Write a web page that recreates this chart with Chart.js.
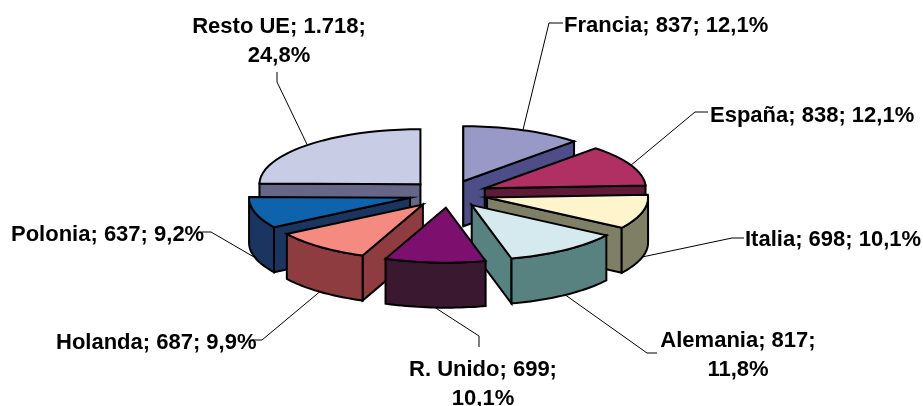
<!DOCTYPE html>
<html lang="es">
<head>
    <meta charset="UTF-8">
    <title>Resto UE</title>
    <script src="https://cdn.jsdelivr.net/npm/chart.js"></script>
    <style>
        html, body { margin: 0; padding: 0; background: #fff; }
        #wrap { width: 923px; height: 406px; }
    </style>
</head>
<body>
    <div id="wrap"><canvas id="pie"></canvas></div>
    <script>
        const categories = ['Francia', 'España', 'Italia', 'Alemania', 'R. Unido', 'Holanda', 'Polonia', 'Resto UE'];
        const values = [837, 838, 698, 817, 699, 687, 637, 1718];
        const valueLabels = ['837', '838', '698', '817', '699', '687', '637', '1.718'];
        const percentLabels = ['12,1%', '12,1%', '10,1%', '11,8%', '10,1%', '9,9%', '9,2%', '24,8%'];
        const topColors = ['#9999c8', '#b03064', '#fff4cc', '#d5eaee', '#7d0f6e', '#f58a80', '#0f62ac', '#c8cce4'];
        const sideColors = ['#4d4d88', '#5f1a38', '#7f7f66', '#588280', '#3a1830', '#8f3c40', '#1a3560', '#666688'];

        // 3D look: the library lays out the arcs, the plugin tilts and extrudes them
        const pieRadius = 161;
        const tilt = 0.342;
        const depth = 45;
        const centerY = 194;
        const drawOrder = [7, 6, 0, 1, 2, 3, 5, 4];

        // label placement: x, first baseline, align, wrapped, leader elbow points
        const labelBoxes = [
            { x: 564, y: 32, align: 'left', wrap: false, elbow: [[549, 23], [563, 23]] },
            { x: 710, y: 122, align: 'left', wrap: false, elbow: [[695, 112], [708, 112]] },
            { x: 745, y: 246, align: 'left', wrap: false, elbow: [[732, 238], [744, 238]] },
            { x: 738, y: 347, align: 'center', wrap: true, elbow: [[647, 353], [657, 353]] },
            { x: 483, y: 376, align: 'center', wrap: true, elbow: [[479, 336], [479, 347]] },
            { x: 56, y: 349, align: 'left', wrap: false, elbow: [[262, 340], [252, 340]] },
            { x: 11, y: 241, align: 'left', wrap: false, elbow: [[211, 232], [202, 232]] },
            { x: 279, y: 33, align: 'center', wrap: true, elbow: [[277, 82], [277, 72]] }
        ];

        function wedgeCenter(arc) {
            const mid = (arc.startAngle + arc.endAngle) / 2;
            const shift = arc.options.offset / 4 * pieRadius / arc.outerRadius;
            return [arc.x + Math.cos(mid) * shift, centerY + Math.sin(mid) * shift * tilt];
        }

        function wedgePoints(arc, center) {
            const pts = [];
            const steps = 24;
            for (let i = 0; i <= steps; i++) {
                const a = arc.startAngle + (arc.endAngle - arc.startAngle) * i / steps;
                pts.push([center[0] + Math.cos(a) * pieRadius, center[1] + Math.sin(a) * pieRadius * tilt]);
            }
            return pts;
        }

        function tracePath(ctx, pts) {
            ctx.beginPath();
            pts.forEach((p, i) => i ? ctx.lineTo(p[0], p[1]) : ctx.moveTo(p[0], p[1]));
            ctx.closePath();
        }

        function paint(ctx, pts, color) {
            tracePath(ctx, pts);
            ctx.fillStyle = color;
            ctx.fill();
            ctx.stroke();
        }

        function drawWedge(ctx, arc, index) {
            const apex = wedgeCenter(arc);
            const rim = wedgePoints(arc, apex);
            const down = p => [p[0], p[1] + depth];
            const side = sideColors[index];

            // radial faces, only those turned to the viewer
            [[apex, rim[0]], [rim[rim.length - 1], apex]].forEach(edge => {
                if (edge[1][0] > edge[0][0]) return;
                paint(ctx, [edge[0], edge[1], down(edge[1]), down(edge[0])], side);
            });

            // outer rim, lower half of the ellipse only
            const lower = rim.filter(p => p[1] >= apex[1]);
            if (lower.length > 1) {
                paint(ctx, lower.concat(lower.slice().reverse().map(down)), side);
            }

            paint(ctx, [apex].concat(rim), topColors[index]);
        }

        function drawLabel(ctx, arc, index) {
            const box = labelBoxes[index];
            const mid = (arc.startAngle + arc.endAngle) / 2;
            const apex = wedgeCenter(arc);
            const anchor = [
                apex[0] + Math.cos(mid) * pieRadius,
                apex[1] + Math.sin(mid) * pieRadius * tilt + (Math.sin(mid) > 0 ? depth : 0)
            ];

            ctx.strokeStyle = '#000';
            ctx.lineWidth = 1;
            ctx.beginPath();
            ctx.moveTo(anchor[0], anchor[1]);
            box.elbow.forEach(p => ctx.lineTo(p[0], p[1]));
            ctx.stroke();

            ctx.fillStyle = '#000';
            ctx.font = 'bold 22px "Liberation Sans", Arial, sans-serif';
            ctx.textAlign = box.align;
            ctx.textBaseline = 'alphabetic';
            const head = categories[index] + '; ' + valueLabels[index] + ';';
            if (box.wrap) {
                ctx.fillText(head, box.x, box.y);
                ctx.fillText(percentLabels[index], box.x, box.y + 29);
            } else {
                ctx.fillText(head + ' ' + percentLabels[index], box.x, box.y);
            }
        }

        const pie3d = {
            id: 'pie3d',
            beforeDatasetsDraw(chart) {
                const ctx = chart.ctx;
                const arcs = chart.getDatasetMeta(0).data;
                ctx.save();
                ctx.lineJoin = 'miter';
                ctx.lineWidth = 2;
                ctx.strokeStyle = '#000';
                drawOrder.forEach(i => drawWedge(ctx, arcs[i], i));
                arcs.forEach((arc, i) => drawLabel(ctx, arc, i));
                ctx.restore();
                return false;
            }
        };

        new Chart(document.getElementById('pie'), {
            type: 'pie',
            data: {
                labels: categories,
                datasets: [{
                    data: values,
                    backgroundColor: topColors,
                    borderColor: '#000',
                    borderWidth: 2,
                    offset: 134
                }]
            },
            options: {
                responsive: true,
                maintainAspectRatio: false,
                animation: false,
                layout: { padding: { left: 0, right: 26 } },
                plugins: { legend: { display: false }, tooltip: { enabled: false } }
            },
            plugins: [pie3d]
        });
    </script>
</body>
</html>
